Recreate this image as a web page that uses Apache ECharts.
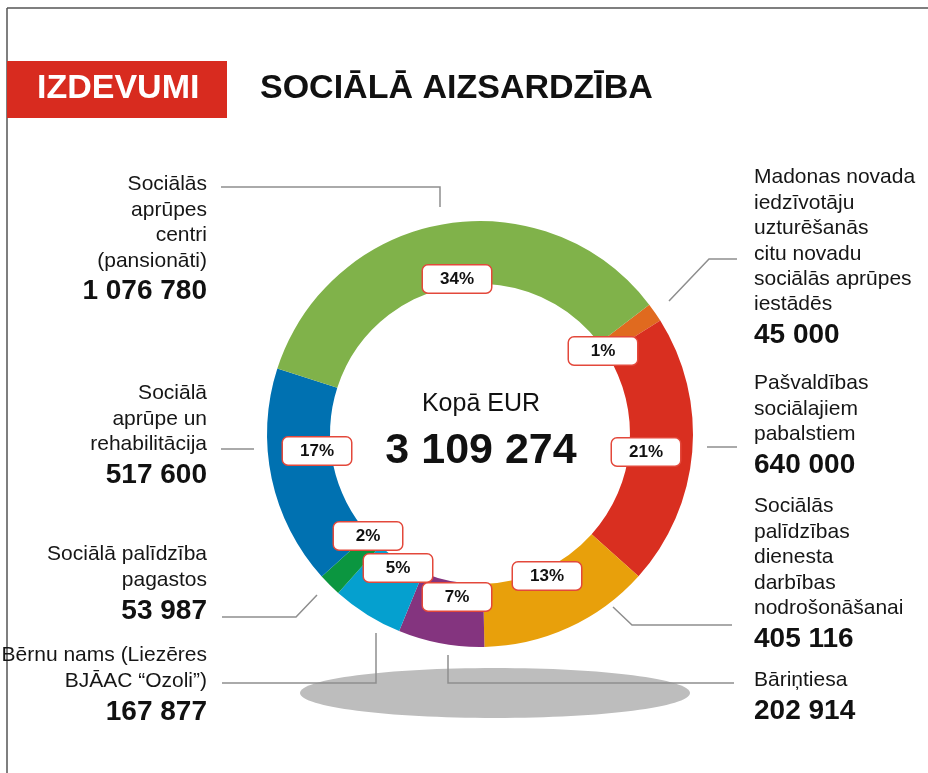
<!DOCTYPE html>
<html>
<head>
<meta charset="utf-8">
<script src="https://cdn.jsdelivr.net/npm/echarts@6/dist/echarts.min.js"></script>
<style>
html,body{margin:0;padding:0;background:#fff;}
#chart{width:928px;height:773px;}
</style>
</head>
<body>
<div id="chart"></div>
<script>
// ---- data ----
const categories = [
  'Madonas novada\niedzīvotāju\nuzturēšanās\ncitu novadu\nsociālās aprūpes\niestādēs',
  'Pašvaldības\nsociālajiem\npabalstiem',
  'Sociālās\npalīdzības\ndienesta\ndarbības\nnodrošonāšanai',
  'Bāriņtiesa',
  'Bērnu nams (Liezēres\nBJĀAC “Ozoli”)',
  'Sociālā palīdzība\npagastos',
  'Sociālā\naprūpe un\nrehabilitācija',
  'Sociālās\naprūpes\ncentri\n(pansionāti)'
];
const values = [45000, 640000, 405116, 202914, 167877, 53987, 517600, 1076780];
const percentLabels = [1, 21, 13, 7, 5, 2, 17, 34];
const centerCaption = 'Kopā EUR';
const headerTag = 'IZDEVUMI';
const headerTitle = 'SOCIĀLĀ AIZSARDZĪBA';

// ---- styles / layout ----
const colors = ['#e06a1f', '#d92f20', '#e8a00b', '#84347f', '#05a0cf', '#0b9640', '#0071b1', '#80b24a'];
const FONT = '"Liberation Sans", Arial, Helvetica, sans-serif';
const CX = 480, CY = 434;
// percent box centres
const pctPos = [[603, 351], [646, 452], [547, 576], [457, 597], [398, 568], [368, 536], [317, 451], [457, 279]];
// outer label anchors: [x, top, align]
const outPos = [
  [754, 165, 'left'], [754, 371, 'left'], [754, 494, 'left'], [754, 668, 'left'],
  [207, 643, 'right'], [207, 542, 'right'], [207, 381, 'right'], [207, 172, 'right']
];
const leaderLines = [
  [[669, 301], [709, 259], [737, 259]],
  [[707, 447], [722, 447], [737, 447]],
  [[613, 607], [632, 625], [732, 625]],
  [[448, 655], [448, 683], [734, 683]],
  [[376, 633], [376, 683], [222, 683]],
  [[317, 595], [296, 617], [222, 617]],
  [[254, 449], [237, 449], [221, 449]],
  [[440, 207], [440, 187], [221, 187]]
];

function fmt(n) { return String(n).replace(/\B(?=(\d{3})+(?!\d))/g, ' '); }
const total = values.reduce((a, b) => a + b, 0);

const pieData = categories.map((c, i) => ({ name: c, value: values[i], itemStyle: { color: colors[i] } }));

const chart = echarts.init(document.getElementById('chart'), null, { renderer: 'canvas' });
chart.setOption({
  animation: false,
  textStyle: { fontFamily: FONT },
  graphic: [
    { type: 'line', z: 0, shape: { x1: 7, y1: 8, x2: 928, y2: 8 }, style: { stroke: '#555', lineWidth: 1.5 } },
    { type: 'line', z: 0, shape: { x1: 7, y1: 8, x2: 7, y2: 773 }, style: { stroke: '#555', lineWidth: 1.5 } },
    { type: 'rect', z: 0, shape: { x: 7, y: 61, width: 220, height: 57 }, style: { fill: '#d82b1f' } },
    { type: 'text', z: 1, x: 37, y: 89, style: { text: headerTag, fill: '#fff', font: 'bold 34px ' + FONT, verticalAlign: 'middle', align: 'left' } },
    { type: 'text', z: 1, x: 260, y: 89, style: { text: headerTitle, fill: '#111', font: 'bold 34px ' + FONT, verticalAlign: 'middle', align: 'left' } },
    { type: 'ellipse', z: 0, shape: { cx: 495, cy: 693, rx: 195, ry: 25 }, style: { fill: '#bdbdbd' } },
    { type: 'text', z: 5, x: CX + 1, y: 404, style: { text: centerCaption, fill: '#111', font: '25px ' + FONT, align: 'center', verticalAlign: 'middle' } },
    { type: 'text', z: 5, x: CX + 1, y: 451, style: { text: fmt(total), fill: '#111', font: 'bold 43px ' + FONT, align: 'center', verticalAlign: 'middle' } }
  ],
  series: [
    {
      type: 'pie',
      center: [CX, CY],
      radius: [150, 213],
      startAngle: 37.4,
      clockwise: true,
      avoidLabelOverlap: false,
      silent: true,
      z: 3,
      data: pieData,
      itemStyle: { borderWidth: 0 },
      label: {
        show: true,
        position: 'inside',
        formatter: p => percentLabels[p.dataIndex] + '%',
        color: '#111',
        fontWeight: 'bold',
        fontSize: 17,
        fontFamily: FONT,
        backgroundColor: '#fff',
        borderColor: '#e3483b',
        borderWidth: 1.5,
        borderRadius: 5,
        width: 68,
        height: 27,
        lineHeight: 27,
        padding: 0,
        align: 'center',
        verticalAlign: 'middle'
      },
      labelLine: { show: false },
      labelLayout: p => ({ x: pctPos[p.dataIndex][0], y: pctPos[p.dataIndex][1], align: 'center', verticalAlign: 'middle' }),
      emphasis: { disabled: true }
    },
    {
      type: 'pie',
      center: [CX, CY],
      radius: [150, 213],
      startAngle: 37.4,
      clockwise: true,
      avoidLabelOverlap: false,
      silent: true,
      z: 2,
      data: categories.map((c, i) => ({ name: c, value: values[i] })),
      itemStyle: { color: 'rgba(0,0,0,0)', borderWidth: 0 },
      label: {
        show: true,
        position: 'outside',
        formatter: p => '{n|' + categories[p.dataIndex] + '}\n{v|' + fmt(values[p.dataIndex]) + '}',
        rich: {
          n: { fontSize: 21, lineHeight: 25.4, color: '#161616', fontFamily: FONT },
          v: { fontSize: 28, lineHeight: 36, fontWeight: 'bold', color: '#111', fontFamily: FONT }
        }
      },
      labelLine: { show: true, smooth: false, lineStyle: { color: '#8e8e8e', width: 1.5 } },
      labelLayout: p => {
        const o = outPos[p.dataIndex];
        return { x: o[0], y: o[1], align: o[2], verticalAlign: 'top', labelLinePoints: leaderLines[p.dataIndex] };
      },
      emphasis: { disabled: true }
    }
  ]
});
</script>
</body>
</html>
